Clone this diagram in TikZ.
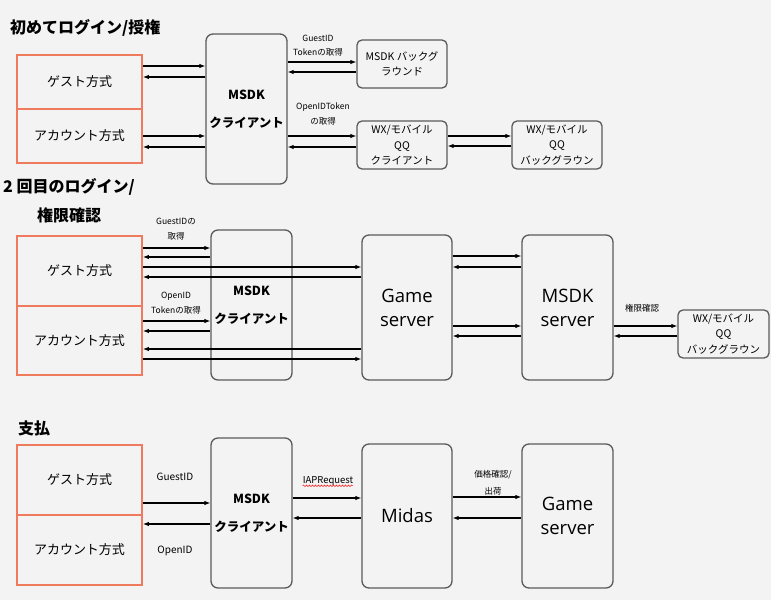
\documentclass[tikz,border=0pt]{standalone}
\usepackage{fontspec}
\setmainfont{Noto Sans CJK JP}
\newfontfamily\srvfont{Open Sans}
\usetikzlibrary{arrows.meta,decorations.pathmorphing}

\definecolor{bggray}{HTML}{F3F3F3}
\definecolor{boxline}{HTML}{5A5A5A}
\definecolor{orangeline}{HTML}{F07A5E}

\tikzset{
  arr/.style={-{Latex[length=6pt,width=4.5pt]}, line width=1.1pt},
  way/.style={draw=orangeline, line width=1.8pt, fill=bggray, minimum width=125pt, inner sep=0,
    font=\fontsize{13}{15}\selectfont},
  box/.style={draw=boxline, line width=1.3pt, rounded corners=7pt, fill=bggray, inner sep=0, align=center},
  client/.style={box, minimum width=81pt, minimum height=150pt, font=\bfseries\fontsize{12.5}{28}\selectfont},
  srv/.style={box, minimum width=91pt, minimum height=145pt, font=\srvfont\fontsize{18.5}{24}\selectfont},
  small/.style={box, rounded corners=5pt, minimum width=90pt, minimum height=48pt, font=\fontsize{10.5}{15.5}\selectfont},
  lbl/.style={align=center, inner sep=0, font=\fontsize{8.5}{14.5}\selectfont},
  title/.style={anchor=west, inner sep=0, font=\bfseries\fontsize{16}{20}\selectfont}
}

\begin{document}
\begin{tikzpicture}[x=1pt, y=-1pt]
  \useasboundingbox (0,0) rectangle (776,605);
  \fill[white] (0,0) rectangle (776,605);
  \fill[bggray] (0,0) rectangle (771,600);

  % first login
  \node[title] (t1) at (10, 28) {初めてログイン/授権};
  \node[way, minimum height=54pt] (g1) at (79.5, 82) {ゲスト方式};
  \node[way, minimum height=54pt] (a1) at (79.5, 136) {アカウント方式};
  \node[client] (c1) at (246.5, 109) {MSDK\\クライアント};
  \node[small] (mb1) at (402, 64) {MSDK バックグ\\ラウンド};
  \node[small] (wc1) at (402, 145) {WX/モバイル\\QQ\\クライアント};
  \node[small] (wb1) at (557, 145) {WX/モバイル\\QQ\\バックグラウン};
  \node[lbl] (l1) at (318, 45.5) {GuestID\\Tokenの取得};
  \node[lbl] (l2) at (323, 114) {OpenIDToken\\の取得};
  \draw[arr] (g1.east |- 0,66) -- (c1.west |- 0,66);
  \draw[arr] (c1.west |- 0,77) -- (g1.east |- 0,77);
  \draw[arr] (a1.east |- 0,136) -- (c1.west |- 0,136);
  \draw[arr] (c1.west |- 0,147) -- (a1.east |- 0,147);
  \draw[arr] (c1.east |- 0,62) -- (mb1.west |- 0,62);
  \draw[arr] (mb1.west |- 0,72) -- (c1.east |- 0,72);
  \draw[arr] (c1.east |- 0,136) -- (wc1.west |- 0,136);
  \draw[arr] (wc1.west |- 0,147) -- (c1.east |- 0,147);
  \draw[arr] (wc1.east |- 0,136) -- (wb1.west |- 0,136);
  \draw[arr] (wb1.west |- 0,146) -- (wc1.east |- 0,146);

  % second login
  \node[title] (t2) at (3, 187) {2 回目のログイン/};
  \node[title] (t3) at (37, 215) {権限確認};
  \node[way, minimum height=70pt] (g2) at (79.5, 271) {ゲスト方式};
  \node[way, minimum height=69pt] (a2) at (79.5, 340.5) {アカウント方式};
  \node[client] (c2) at (251.5, 305) {MSDK\\クライアント};
  \node[srv, minimum width=90pt] (gs2) at (407, 307.5) {Game\\server};
  \node[srv] (ms2) at (567.5, 307.5) {MSDK\\server};
  \node[small, minimum width=91pt] (wb2) at (723.5, 334) {WX/モバイル\\QQ\\バックグラウン};
  \node[lbl] (l3) at (176, 229) {GuestIDの\\取得};
  \node[lbl] (l4) at (176, 303) {OpenID\\Tokenの取得};
  \node[lbl] (l5) at (642, 308) {権限確認};
  \draw[arr] (g2.east |- 0,248) -- (c2.west |- 0,248);
  \draw[arr] (c2.west |- 0,257) -- (g2.east |- 0,257);
  \draw[arr] (g2.east |- 0,267) -- (gs2.west |- 0,267);
  \draw[arr] (gs2.west |- 0,277) -- (g2.east |- 0,277);
  \draw[arr] (a2.east |- 0,321) -- (c2.west |- 0,321);
  \draw[arr] (c2.west |- 0,331) -- (a2.east |- 0,331);
  \draw[arr] (gs2.west |- 0,349) -- (a2.east |- 0,349);
  \draw[arr] (a2.east |- 0,359) -- (gs2.west |- 0,359);
  \draw[arr] (gs2.east |- 0,256) -- (ms2.west |- 0,256);
  \draw[arr] (ms2.west |- 0,267) -- (gs2.east |- 0,267);
  \draw[arr] (gs2.east |- 0,326) -- (ms2.west |- 0,326);
  \draw[arr] (ms2.west |- 0,336) -- (gs2.east |- 0,336);
  \draw[arr] (ms2.east |- 0,326) -- (wb2.west |- 0,326);
  \draw[arr] (wb2.west |- 0,336) -- (ms2.east |- 0,336);

  % payment
  \node[title] (t4) at (18, 428) {支払};
  \node[way, minimum height=70pt] (g3) at (79.5, 480) {ゲスト方式};
  \node[way, minimum height=70pt] (a3) at (79.5, 550) {アカウント方式};
  \node[client] (c3) at (251.5, 513) {MSDK\\クライアント};
  \node[srv, minimum width=90pt, minimum height=144pt] (md3) at (407, 516) {Midas};
  \node[srv, minimum height=144pt] (gs3) at (567.5, 516) {Game\\server};
  \node[lbl, font=\fontsize{10}{12}\selectfont] (l6) at (175, 477) {GuestID};
  \node[lbl, font=\fontsize{10}{12}\selectfont] (l7) at (175, 551) {OpenID};
  \node[lbl, font=\fontsize{9.5}{12}\selectfont] (l8) at (328, 481) {IAPRequest};
  \node[lbl, font=\fontsize{8.5}{17}\selectfont] (l9) at (493, 482.5) {価格確認/\\出荷};
  \draw[red, decorate, decoration={snake, amplitude=0.8pt, segment length=3pt}] (l8.south west) -- (l8.south east);
  \draw[arr] (g3.east |- 0,503) -- (c3.west |- 0,503);
  \draw[arr] (c3.west |- 0,524) -- (g3.east |- 0,524);
  \draw[arr] (c3.east |- 0,498) -- (md3.west |- 0,498);
  \draw[arr] (md3.west |- 0,518) -- (c3.east |- 0,518);
  \draw[arr] (md3.east |- 0,497) -- (gs3.west |- 0,497);
  \draw[arr] (gs3.west |- 0,518) -- (md3.east |- 0,518);
\end{tikzpicture}
\end{document}
